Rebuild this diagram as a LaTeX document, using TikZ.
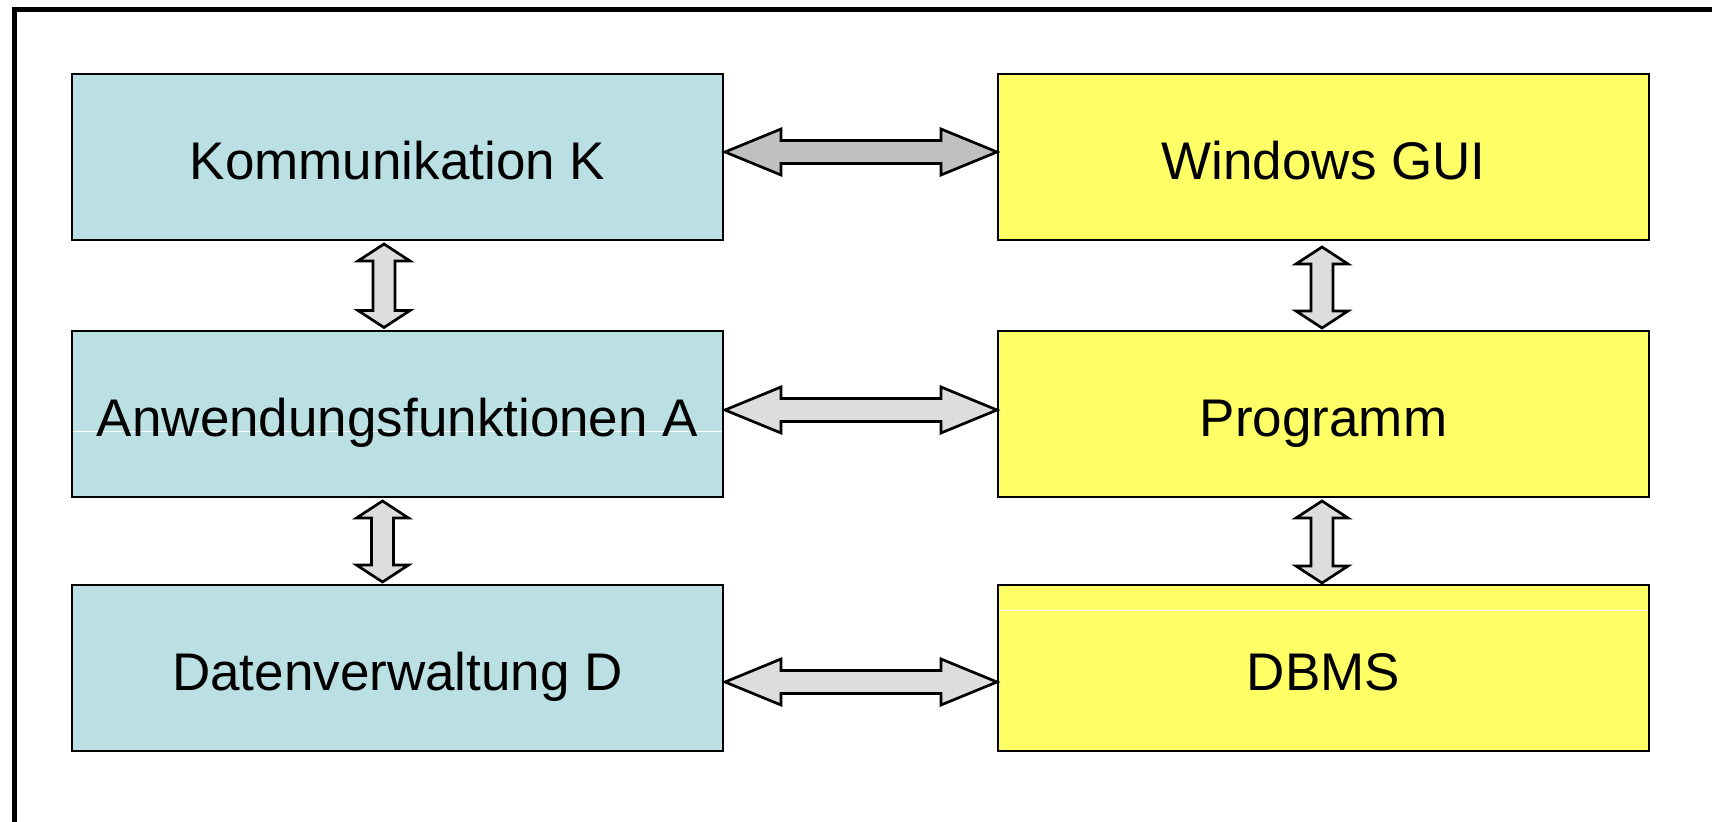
\documentclass[tikz,border=0pt]{standalone}
\usepackage{fontspec}
\setmainfont{Liberation Sans}
\usetikzlibrary{calc}

\definecolor{layercyan}{HTML}{BBE0E3}
\definecolor{layeryellow}{HTML}{FFFF66}
\definecolor{arrowdark}{HTML}{C0C0C0}
\definecolor{arrowlight}{HTML}{DDDDDD}

% horizontal double arrow: #1 left end, #2 right end, #3 fill
\newcommand\hbiarrow[3]{%
  \draw[biarrow,fill=#3] (#1) -- ++(56,-23) -- ++(0,11.5)
    -- ($(#2)+(-56,-11.5)$) -- ++(0,-11.5) -- (#2) -- ++(-56,23) -- ++(0,-11.5)
    -- ($(#1)+(56,11.5)$) -- ++(0,11.5) -- cycle;}
% vertical double arrow: #1 top end, #2 bottom end, #3 fill
\newcommand\vbiarrow[3]{%
  \draw[biarrow,fill=#3] (#1) -- ++(26,17) -- ++(-15,0)
    -- ($(#2)+(11,-17)$) -- ++(15,0) -- (#2) -- ++(-26,-17) -- ++(15,0)
    -- ($(#1)+(-11,17)$) -- ++(-15,0) -- cycle;}

\tikzset{
  layerbox/.style={draw=black, line width=1pt, minimum width=325.5pt,
    minimum height=83pt, inner sep=0pt, font=\fontsize{26.5}{30}\selectfont,
    text height=22.3pt, text depth=0pt},
  leftbox/.style={layerbox, fill=layercyan},
  rightbox/.style={layerbox, fill=layeryellow},
  biarrow/.style={draw=black, line width=1.35pt, line join=miter},
  seam/.style={draw=white, line width=0.5pt},
}

\begin{document}
\begin{tikzpicture}[x=0.5pt, y=-0.5pt]
  \useasboundingbox (0,0) rectangle (1712,822);
  \clip (0,0) rectangle (1712,822);
  \fill[white] (0,0) rectangle (1712,822);

  % outer frame, running off the right and bottom edges
  \draw[line width=2.5pt] (14,9.5) rectangle (1800,900);

  % left column
  \node[leftbox] (K) at (397.5,157.5) {Kommunikation K};
  \node[leftbox, path picture={
      \draw[seam] ($(path picture bounding box.west)+(0pt,-9pt)$)
        -- ($(path picture bounding box.east)+(0pt,-9pt)$);}]
    (A) at (397.5,414) {Anwendungsfunktionen A};
  \node[leftbox] (D) at (397.5,668) {Datenverwaltung D};

  % right column
  \node[rightbox] (W) at (1323.5,157.5) {Windows GUI};
  \node[rightbox] (P) at (1323.5,414) {Programm};
  \node[rightbox, path picture={
      \draw[seam] ($(path picture bounding box.west)+(0pt,28.5pt)$)
        -- ($(path picture bounding box.east)+(0pt,28.5pt)$);}]
    (B) at (1323.5,668) {DBMS};

  % horizontal links
  \hbiarrow{$(K.east)+(1,-5.5)$}{$(W.west)+(0,-5.5)$}{arrowdark}
  \hbiarrow{$(A.east)+(1,-4)$}{$(P.west)+(0,-4)$}{arrowlight}
  \hbiarrow{$(D.east)+(1,14)$}{$(B.west)+(0,14)$}{arrowlight}

  % vertical links
  \vbiarrow{$(K.south)+(-13.5,2.5)$}{$(A.north)+(-13.5,-2.5)$}{arrowlight}
  \vbiarrow{$(A.south)+(-15,3)$}{$(D.north)+(-15,-2)$}{arrowlight}
  \vbiarrow{$(W.south)+(-1.5,5.5)$}{$(P.north)+(-1.5,-2)$}{arrowlight}
  \vbiarrow{$(P.south)+(-1.5,3)$}{$(B.north)+(-1.5,-1)$}{arrowlight}
\end{tikzpicture}
\end{document}
